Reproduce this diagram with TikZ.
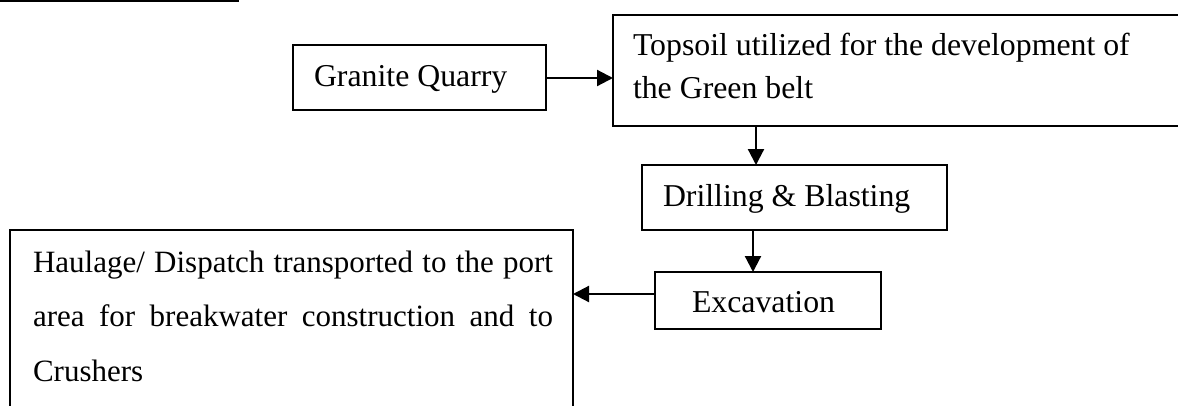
\documentclass[tikz,border=0pt]{standalone}
\usepackage{fontspec}
\setmainfont{Liberation Serif}
\usetikzlibrary{arrows.meta}
\tikzset{
  box/.style={draw=black, line width=2pt, rectangle, anchor=north west, inner sep=0pt, outer sep=0pt},
  txt/.style={anchor=base west, inner sep=0pt, outer sep=0pt, font=\fontsize{31.8}{42}\selectfont},
  arr/.style={line width=2.2pt, -{Triangle[length=16pt,width=16pt]}},
}
\begin{document}
\begin{tikzpicture}[x=1pt,y=-1pt]
\useasboundingbox (0,0) rectangle (1178,405);
\clip (0,0) rectangle (1178,405);
% top rule
\draw[line width=2pt] (0,1) -- (239,1);
% boxes
\node[box, minimum width=253pt, minimum height=65pt] (gq) at (293,45) {};
\node[box, minimum width=700pt, minimum height=111pt] (ts) at (613,15) {};
\node[box, minimum width=305pt, minimum height=65pt] (dr) at (642,165) {};
\node[box, minimum width=226pt, minimum height=57pt] (ex) at (655,272) {};
\node[box, minimum width=563pt, minimum height=230pt] (hl) at (10,230) {};
% texts
\node[txt] (gqt) at (314,86) {Granite Quarry};
\node[txt] (tst) at (633,55) {\vtop{\baselineskip=43pt\hbox{Topsoil utilized for the development of}\hbox{the Green belt}}};
\node[txt] (drt) at (663,206) {Drilling \& Blasting};
\node[txt] (ext) at (692,312) {Excavation};
\node[txt, font=\fontsize{31}{42}\selectfont] (hlt) at (33,272) {\vtop{\baselineskip=54.5pt
  \hbox to 520pt{Haulage/ Dispatch transported to the port}
  \hbox to 520pt{area for breakwater construction and to}
  \hbox{Crushers}}};
% connector x positions
\coordinate (c1) at (756,0);
\coordinate (c2) at (753,0);
% arrows
\draw[arr] (gq.east |- 0,78) -- (ts.west |- 0,78);
\draw[arr] (c1 |- ts.south) -- (c1 |- dr.north);
\draw[arr] (c2 |- dr.south) -- (c2 |- ex.north);
\draw[arr] (ex.west |- 0,294) -- (hl.east |- 0,294);
\end{tikzpicture}
\end{document}
